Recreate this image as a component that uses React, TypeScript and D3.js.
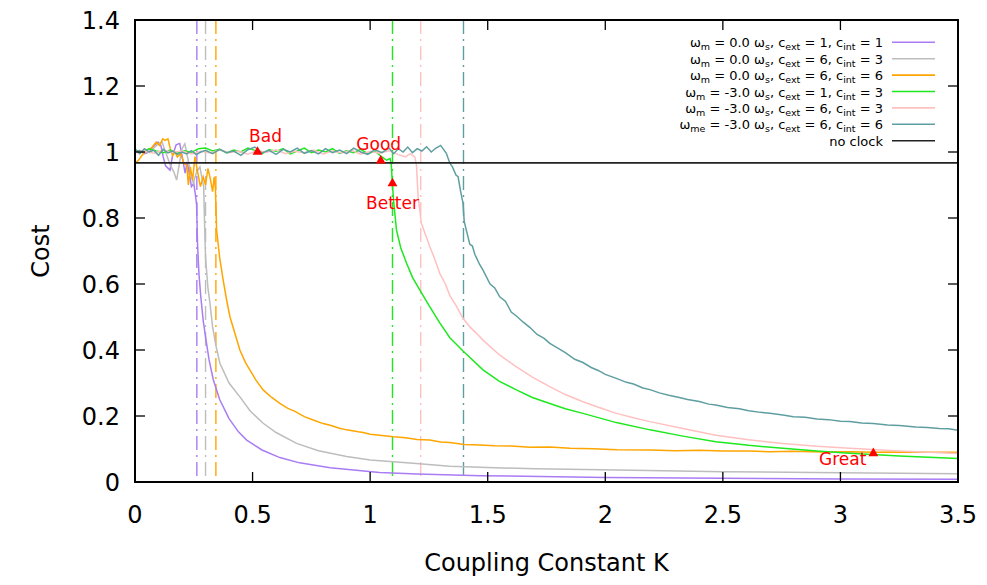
import { scaleLinear, line, symbol, symbolTriangle } from 'd3';

const W = 987;
const H = 585;
const plot = { left: 135, right: 958, top: 20, bottom: 482 };

const xTicks = [0, 0.5, 1, 1.5, 2, 2.5, 3, 3.5];
const xTickLabels = ['0', '0.5', '1', '1.5', '2', '2.5', '3', '3.5'];
const yTicks = [0, 0.2, 0.4, 0.6, 0.8, 1.0, 1.2, 1.4];
const yTickLabels = ['0', '0.2', '0.4', '0.6', '0.8', '1', '1.2', '1.4'];

// [K, cost]
const purple: [number, number][] = [
  [0, 1.0], [0.02, 1.005], [0.04, 0.995], [0.06, 1.0], [0.08, 1.018], [0.098, 1.03], [0.11, 1.02],
  [0.12, 0.985], [0.13, 0.958], [0.149, 0.945], [0.16, 0.99], [0.175, 1.022], [0.19, 1.026],
  [0.2, 0.99], [0.213, 0.936], [0.222, 0.97], [0.232, 0.93], [0.24, 0.895], [0.25, 0.905],
  [0.256, 0.875], [0.262, 0.84], [0.266, 0.72], [0.272, 0.63], [0.28, 0.56], [0.29, 0.49],
  [0.3, 0.44], [0.315, 0.37], [0.333, 0.31], [0.36, 0.25], [0.4, 0.192], [0.44, 0.152],
  [0.475, 0.127], [0.54, 0.097], [0.616, 0.074], [0.7, 0.058], [0.83, 0.043], [1.04, 0.029],
  [1.2, 0.024], [1.47, 0.019], [2.0, 0.014], [2.5, 0.011], [3.0, 0.009], [3.5, 0.008],
];

const gray: [number, number][] = [
  [0, 1.002], [0.02, 0.996], [0.04, 1.006], [0.06, 0.998], [0.08, 1.012], [0.1, 1.025],
  [0.115, 1.03], [0.13, 1.0], [0.15, 0.96], [0.165, 0.94], [0.177, 0.915], [0.19, 0.97],
  [0.2, 1.01], [0.212, 1.025], [0.225, 0.98], [0.238, 0.93], [0.248, 0.906], [0.262, 0.94],
  [0.276, 0.955], [0.285, 0.92], [0.292, 0.895], [0.296, 0.78], [0.3, 0.68], [0.31, 0.59],
  [0.319, 0.54], [0.33, 0.47], [0.345, 0.41], [0.361, 0.36], [0.4, 0.3], [0.446, 0.258],
  [0.49, 0.215], [0.545, 0.178], [0.6, 0.15], [0.687, 0.117], [0.78, 0.095], [0.9, 0.077],
  [1.0, 0.067], [1.183, 0.057], [1.339, 0.048], [1.466, 0.0445], [1.7, 0.04], [2.05, 0.036],
  [2.5, 0.031], [3.0, 0.028], [3.5, 0.025],
];

const orange: [number, number][] = [
  [0, 0.966], [0.015, 0.975], [0.03, 0.99], [0.05, 1.006], [0.07, 1.012], [0.09, 1.03],
  [0.105, 1.02], [0.118, 1.04], [0.128, 1.035], [0.14, 1.04], [0.15, 1.01], [0.16, 0.99],
  [0.17, 1.0], [0.18, 0.985], [0.195, 0.995], [0.208, 0.965], [0.22, 0.96], [0.227, 0.9],
  [0.235, 0.955], [0.245, 0.915], [0.255, 0.986], [0.265, 0.945], [0.278, 0.895],
  [0.29, 0.925], [0.3, 0.9], [0.31, 0.95], [0.32, 0.92], [0.33, 0.88], [0.337, 0.925],
  [0.342, 0.89], [0.347, 0.764], [0.36, 0.68], [0.375, 0.612], [0.39, 0.55], [0.404, 0.5],
  [0.425, 0.45], [0.446, 0.4], [0.47, 0.362], [0.489, 0.339], [0.515, 0.308], [0.545, 0.279],
  [0.58, 0.257], [0.616, 0.238], [0.65, 0.223], [0.68, 0.214], [0.72, 0.198], [0.758, 0.188],
  [0.8, 0.177], [0.83, 0.172], [0.87, 0.163], [0.9, 0.158], [0.95, 0.152], [0.97, 0.15],
  [1.0, 0.145], [1.041, 0.142], [1.1, 0.137], [1.15, 0.134], [1.2, 0.129], [1.254, 0.127],
  [1.3, 0.121], [1.339, 0.12], [1.4, 0.114], [1.466, 0.112], [1.53, 0.11], [1.6, 0.109],
  [1.68, 0.105], [1.764, 0.106], [1.85, 0.102], [1.95, 0.101], [2.05, 0.098], [2.19, 0.097],
  [2.3, 0.095], [2.4, 0.096], [2.5, 0.094], [2.61, 0.094], [2.7, 0.092], [2.8, 0.093],
  [2.92, 0.091], [3.04, 0.092], [3.15, 0.09], [3.25, 0.091], [3.38, 0.09], [3.5, 0.09],
];

const green: [number, number][] = [
  [0, 1.005], [0.03, 1.0], [0.06, 1.01], [0.09, 1.003], [0.12, 0.998], [0.15, 1.006],
  [0.18, 0.996], [0.21, 1.004], [0.24, 0.999], [0.27, 1.01], [0.3, 1.012], [0.33, 1.003],
  [0.36, 1.008], [0.39, 0.997], [0.42, 1.006], [0.45, 1.0], [0.48, 1.012], [0.51, 1.005],
  [0.54, 0.995], [0.57, 1.007], [0.6, 1.002], [0.63, 1.01], [0.66, 0.994], [0.69, 1.003],
  [0.72, 1.012], [0.75, 0.998], [0.78, 1.006], [0.81, 1.0], [0.84, 1.01], [0.87, 0.996],
  [0.9, 1.004], [0.93, 0.998], [0.96, 1.008], [0.99, 0.995], [1.02, 1.003], [1.05, 0.985],
  [1.07, 0.975], [1.085, 0.98], [1.09, 0.96], [1.095, 0.9], [1.1, 0.85], [1.112, 0.764],
  [1.13, 0.71], [1.155, 0.663], [1.18, 0.62], [1.211, 0.582], [1.25, 0.535], [1.296, 0.482],
  [1.339, 0.437], [1.395, 0.397], [1.48, 0.34], [1.55, 0.305], [1.622, 0.279], [1.69, 0.256],
  [1.764, 0.238], [1.83, 0.222], [1.905, 0.208], [2.047, 0.18], [2.19, 0.158], [2.33, 0.139],
  [2.47, 0.122], [2.61, 0.111], [2.755, 0.102], [2.9, 0.094], [3.04, 0.087], [3.25, 0.079],
  [3.5, 0.071],
];

const pink: [number, number][] = [
  [0, 0.998], [0.04, 1.004], [0.08, 0.996], [0.12, 1.006], [0.16, 0.999], [0.2, 1.003],
  [0.24, 0.994], [0.28, 1.002], [0.32, 0.997], [0.36, 1.006], [0.4, 0.998], [0.44, 1.003],
  [0.48, 0.993], [0.52, 1.004], [0.56, 0.999], [0.6, 1.007], [0.64, 0.995], [0.68, 1.002],
  [0.72, 0.998], [0.76, 1.006], [0.8, 0.994], [0.84, 1.003], [0.88, 0.997], [0.92, 1.005],
  [0.96, 0.993], [1.0, 1.002], [1.04, 0.996], [1.08, 1.004], [1.12, 0.992], [1.15, 0.985],
  [1.17, 0.995], [1.19, 0.985], [1.197, 0.96], [1.204, 0.864], [1.218, 0.784], [1.235, 0.75],
  [1.254, 0.713], [1.275, 0.675], [1.296, 0.632], [1.32, 0.6], [1.339, 0.565], [1.365, 0.535],
  [1.395, 0.496], [1.424, 0.47], [1.45, 0.452], [1.48, 0.43], [1.55, 0.385], [1.622, 0.349],
  [1.69, 0.318], [1.764, 0.289], [1.83, 0.265], [1.905, 0.243], [1.98, 0.224], [2.047, 0.208],
  [2.12, 0.195], [2.19, 0.183], [2.33, 0.162], [2.47, 0.142], [2.61, 0.128], [2.755, 0.117],
  [2.9, 0.108], [3.04, 0.102], [3.25, 0.094], [3.5, 0.086],
];

const teal: [number, number][] = [
  [0, 1.01], [0.02, 0.995], [0.04, 1.01], [0.06, 1.0], [0.08, 1.005], [0.1, 0.99],
  [0.12, 1.008], [0.14, 0.997], [0.16, 1.003], [0.18, 0.993], [0.2, 1.0], [0.22, 0.994],
  [0.24, 1.004], [0.26, 0.992], [0.28, 1.0], [0.3, 1.005], [0.33, 0.995], [0.36, 1.008],
  [0.39, 0.998], [0.42, 1.003], [0.45, 0.99], [0.48, 1.007], [0.51, 1.015], [0.54, 0.997],
  [0.57, 1.005], [0.6, 0.993], [0.63, 1.008], [0.66, 1.0], [0.69, 1.012], [0.72, 0.996],
  [0.75, 1.004], [0.78, 0.994], [0.81, 1.01], [0.84, 0.998], [0.87, 1.006], [0.9, 0.995],
  [0.93, 1.012], [0.96, 1.0], [0.99, 0.993], [1.02, 1.007], [1.05, 0.998], [1.08, 1.012],
  [1.1, 0.995], [1.12, 1.01], [1.14, 1.0], [1.16, 1.015], [1.18, 0.998], [1.2, 1.01],
  [1.22, 1.003], [1.24, 1.016], [1.26, 1.0], [1.28, 1.012], [1.3, 1.02], [1.315, 1.005],
  [1.324, 0.996], [1.339, 0.966], [1.35, 0.955], [1.365, 0.93], [1.374, 0.925], [1.385, 0.88],
  [1.395, 0.845], [1.4, 0.79], [1.41, 0.76], [1.424, 0.72], [1.435, 0.715], [1.445, 0.69],
  [1.452, 0.68], [1.465, 0.66], [1.48, 0.642], [1.51, 0.6], [1.53, 0.588], [1.551, 0.561],
  [1.575, 0.548], [1.6, 0.515], [1.622, 0.503], [1.65, 0.485], [1.68, 0.468], [1.71, 0.447],
  [1.74, 0.435], [1.764, 0.42], [1.8, 0.405], [1.83, 0.392], [1.87, 0.372], [1.905, 0.362],
  [1.94, 0.347], [1.97, 0.338], [2.0, 0.326], [2.047, 0.314], [2.09, 0.302], [2.12, 0.297],
  [2.16, 0.285], [2.19, 0.28], [2.23, 0.27], [2.27, 0.263], [2.31, 0.257], [2.35, 0.25],
  [2.4, 0.244], [2.44, 0.236], [2.47, 0.233], [2.52, 0.226], [2.57, 0.222], [2.61, 0.216],
  [2.66, 0.211], [2.7, 0.208], [2.755, 0.203], [2.8, 0.198], [2.85, 0.196], [2.9, 0.191],
  [2.95, 0.189], [3.0, 0.184], [3.04, 0.183], [3.09, 0.179], [3.14, 0.177], [3.2, 0.173],
  [3.25, 0.171], [3.32, 0.167], [3.37, 0.165], [3.42, 0.162], [3.46, 0.161], [3.5, 0.157],
];

const seriesData = [purple, gray, orange, green, pink, teal];
const seriesColors = ['#a97cf4', '#bdbdbd', '#ffa500', '#1ee81e', '#ffc0c0', '#5f9ea0'];
// critical coupling of each run (dash-dot verticals)
const criticalK = [0.263, 0.3, 0.344, 1.095, 1.215, 1.397];
const noClockCost = 0.967;

// legend: parts of [text, isSubscript]
const legendParts: [string, boolean][][] = [
  [['ω', false], ['m', true], [' = 0.0 ω', false], ['s', true], [', c', false], ['ext', true], [' = 1, c', false], ['int', true], [' = 1', false]],
  [['ω', false], ['m', true], [' = 0.0 ω', false], ['s', true], [', c', false], ['ext', true], [' = 6, c', false], ['int', true], [' = 3', false]],
  [['ω', false], ['m', true], [' = 0.0 ω', false], ['s', true], [', c', false], ['ext', true], [' = 6, c', false], ['int', true], [' = 6', false]],
  [['ω', false], ['m', true], [' = -3.0 ω', false], ['s', true], [', c', false], ['ext', true], [' = 1, c', false], ['int', true], [' = 3', false]],
  [['ω', false], ['m', true], [' = -3.0 ω', false], ['s', true], [', c', false], ['ext', true], [' = 6, c', false], ['int', true], [' = 3', false]],
  [['ω', false], ['me', true], [' = -3.0 ω', false], ['s', true], [', c', false], ['ext', true], [' = 6, c', false], ['int', true], [' = 6', false]],
  [['no clock', false]],
];

const markerLabels = ['Bad', 'Good', 'Better', 'Great'];
const markerK = [0.521, 1.045, 1.095, 3.14];
const markerCost = [1.0, 0.974, 0.905, 0.087];

const FONT = '"DejaVu Sans", Verdana, sans-serif';

export default function App() {
  const x = scaleLinear().domain([0, 3.5]).range([plot.left, plot.right]);
  const y = scaleLinear().domain([0, 1.4]).range([plot.bottom, plot.top]);
  const path = line<[number, number]>()
    .x((d) => x(d[0]))
    .y((d) => y(d[1]));
  const tri = symbol().type(symbolTriangle).size(42)();

  const labelOffsets: [number, number, string][] = [
    [8, -10, 'middle'],
    [-2, -11, 'middle'],
    [0, 26, 'middle'],
    [-7, 12, 'end'],
  ];

  const legendRight = 883;
  const legendTop = 42.3;
  const legendStep = 16.4;

  return (
    <svg
      width={W}
      height={H}
      style={{ position: 'absolute', left: 0, top: 0, background: '#fff' }}
      fontFamily={FONT}
    >
      <defs>
        <clipPath id="plotClip">
          <rect x={plot.left} y={plot.top} width={plot.right - plot.left} height={plot.bottom - plot.top} />
        </clipPath>
      </defs>

      {/* critical K markers */}
      {criticalK.map((k, i) => (
        <line
          key={'v' + i}
          x1={x(k)}
          x2={x(k)}
          y1={plot.top}
          y2={plot.bottom}
          stroke={seriesColors[i]}
          strokeWidth={1.4}
          strokeDasharray="14,5,2,5"
        />
      ))}

      <g clipPath="url(#plotClip)">
        {seriesData.map((d, i) => (
          <path key={'s' + i} d={path(d) || ''} fill="none" stroke={seriesColors[i]} strokeWidth={1.5} />
        ))}
        <line x1={plot.left} x2={plot.right} y1={y(noClockCost)} y2={y(noClockCost)} stroke="#222" strokeWidth={1.6} />
      </g>

      {/* ticks, mirrored on all sides */}
      {xTicks.map((t, i) => (
        <g key={'xt' + i}>
          <line x1={x(t)} x2={x(t)} y1={plot.bottom} y2={plot.bottom - 10} stroke="#000" strokeWidth={1.3} />
          <line x1={x(t)} x2={x(t)} y1={plot.top} y2={plot.top + 10} stroke="#000" strokeWidth={1.3} />
          <text x={x(t)} y={plot.bottom + 41} textAnchor="middle" fontSize={24} fill="#000">
            {xTickLabels[i]}
          </text>
        </g>
      ))}
      {yTicks.map((t, i) => (
        <g key={'yt' + i}>
          <line x1={plot.left} x2={plot.left + 10} y1={y(t)} y2={y(t)} stroke="#000" strokeWidth={1.3} />
          <line x1={plot.right} x2={plot.right - 10} y1={y(t)} y2={y(t)} stroke="#000" strokeWidth={1.3} />
          <text x={plot.left - 15} y={y(t) + 9} textAnchor="end" fontSize={24} fill="#000">
            {yTickLabels[i]}
          </text>
        </g>
      ))}

      <rect
        x={plot.left}
        y={plot.top}
        width={plot.right - plot.left}
        height={plot.bottom - plot.top}
        fill="none"
        stroke="#000"
        strokeWidth={2}
      />

      {/* legend */}
      {legendParts.map((parts, i) => {
        const cy = legendTop + i * legendStep;
        return (
          <g key={'lg' + i}>
            <text x={legendRight} y={cy + 5} textAnchor="end" fontSize={13} fill="#000">
              {parts.map(([s, sub], j) => (
                <tspan key={j} fontSize={sub ? 9.5 : 13} dy={sub ? 3 : j > 0 && parts[j - 1][1] ? -3 : 0}>
                  {s}
                </tspan>
              ))}
            </text>
            <line
              x1={892}
              x2={935}
              y1={cy}
              y2={cy}
              stroke={i < seriesColors.length ? seriesColors[i] : '#222'}
              strokeWidth={1.6}
            />
          </g>
        );
      })}

      {/* annotations */}
      {markerLabels.map((lbl, i) => {
        const mx = x(markerK[i]);
        const my = y(markerCost[i]);
        const [dx, dy, anchor] = labelOffsets[i];
        return (
          <g key={'m' + i}>
            <path d={tri || ''} transform={`translate(${mx},${my})`} fill="#ff0000" />
            <text x={mx + dx} y={my + dy} textAnchor={anchor} fontSize={17} fill="#ff0000">
              {lbl}
            </text>
          </g>
        );
      })}

      <text
        transform={`translate(49,${(plot.top + plot.bottom) / 2}) rotate(-90)`}
        textAnchor="middle"
        fontSize={24}
        fill="#000"
      >
        Cost
      </text>
      <text x={(plot.left + plot.right) / 2} y={571} textAnchor="middle" fontSize={24} fill="#000">
        Coupling Constant K
      </text>
    </svg>
  );
}
